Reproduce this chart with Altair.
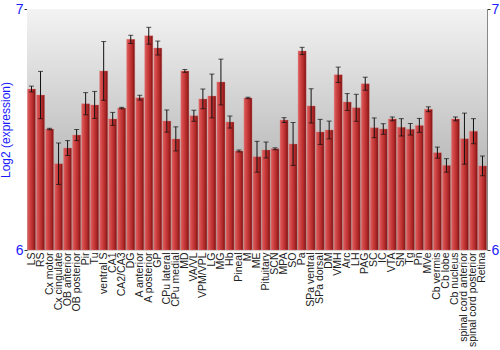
import altair as alt
import pandas as pd

regions = ["LS", "RS", "Cx motor", "Cx cingulate", "OB anterior", "OB posterior", "Pir", "Tu",
           "ventral S", "CA1", "CA2/CA3", "DG", "A anterior", "A posterior", "GP", "CPu lateral",
           "CPu medial", "MD", "VA/VL", "VPM/VPL", "LG", "MG", "Hb", "Pineal", "M", "ME",
           "Pituitary", "SCN", "MPA", "SO", "Pa", "SPa ventral", "SPa dorsal", "DM", "VMH", "Arc",
           "LH", "PAG", "SC", "IC", "VTA", "SN", "Tg", "Pn", "MVe", "Cb vermis", "Cb lobe",
           "Cb nucleus", "spinal cord anterior", "spinal cord posterior", "Retina"]

values = [6.668, 6.643, 6.502, 6.358, 6.423, 6.477, 6.607, 6.602,
          6.743, 6.544, 6.589, 6.874, 6.632, 6.889, 6.838, 6.535,
          6.461, 6.743, 6.557, 6.627, 6.639, 6.697, 6.531, 6.411, 6.631, 6.387,
          6.415, 6.420, 6.539, 6.440, 6.826, 6.598, 6.490, 6.498, 6.727, 6.614,
          6.590, 6.690, 6.507, 6.502, 6.544, 6.509, 6.501, 6.517, 6.584, 6.404, 6.351,
          6.544, 6.462, 6.493, 6.349]

errors = [0.012, 0.098, 0.003, 0.086, 0.031, 0.023, 0.046, 0.056,
          0.122, 0.027, 0.003, 0.017, 0.010, 0.035, 0.029, 0.046,
          0.050, 0.006, 0.023, 0.041, 0.091, 0.095, 0.025, 0.004, 0.003, 0.064,
          0.033, 0.004, 0.010, 0.089, 0.015, 0.071, 0.052, 0.037, 0.032, 0.035,
          0.056, 0.027, 0.041, 0.022, 0.008, 0.036, 0.024, 0.029, 0.010, 0.023, 0.028,
          0.008, 0.106, 0.052, 0.041]

y_domain = [6, 7]

df = pd.DataFrame({"region": regions, "value": values, "err": errors})
df["lo"] = df["value"] - df["err"]
df["hi"] = df["value"] + df["err"]

W, H = 460, 241
BLUE = "#1a1aff"
FONT = "Liberation Sans"

xenc = alt.X("region:N", sort=regions, scale=alt.Scale(paddingInner=0.1, paddingOuter=0.05),
             axis=alt.Axis(title=None, labelAngle=270, labelAlign="right", labelBaseline="middle",
                           labelFontSize=10.5, labelColor="#222222", labelFont=FONT, ticks=False,
                           domain=False, labelPadding=2))
yscale = alt.Scale(domain=y_domain, zero=False, nice=False)

bg = alt.Chart(pd.DataFrame({"a": [0]})).mark_rect(
    color=alt.LinearGradient(gradient="linear", x1=0, x2=0, y1=0, y2=1,
                             stops=[alt.GradientStop(color="#f3f3f3", offset=0),
                                    alt.GradientStop(color="#9c9c9c", offset=1)])
).encode(x=alt.value(0), x2=alt.value(W), y=alt.value(0), y2=alt.value(H))

bars = alt.Chart(df).mark_bar(
    color=alt.LinearGradient(gradient="linear", x1=0, x2=1, y1=0, y2=0,
                             stops=[alt.GradientStop(color="#e06060", offset=0),
                                    alt.GradientStop(color="#cc4040", offset=0.35),
                                    alt.GradientStop(color="#b02828", offset=0.7),
                                    alt.GradientStop(color="#7a1010", offset=1)]),
    stroke="#d98080", strokeWidth=0.5, strokeOpacity=0.7
).encode(
    x=xenc,
    y=alt.Y("value:Q", scale=yscale,
            axis=alt.Axis(title="Log2 (expression)", titleColor=BLUE, titleFontSize=12,
                          titleFontWeight="normal", titleFont=FONT, titlePadding=3,
                          labelColor=BLUE, labelFontSize=14, labelFont=FONT, format="d",
                          values=[6, 7], grid=False, domainColor="#666666",
                          tickColor="#333333", tickSize=3, labelPadding=1)),
    y2=alt.datum(6),
)

rules = alt.Chart(df).mark_rule(color="#111111", strokeWidth=1).encode(
    x=alt.X("region:N", sort=regions), y=alt.Y("lo:Q", scale=yscale, axis=None), y2="hi:Q")
caps_hi = alt.Chart(df).mark_tick(color="#111111", thickness=1, size=5).encode(
    x=alt.X("region:N", sort=regions), y=alt.Y("hi:Q", scale=yscale, axis=None))
caps_lo = alt.Chart(df).mark_tick(color="#111111", thickness=1, size=5).encode(
    x=alt.X("region:N", sort=regions), y=alt.Y("lo:Q", scale=yscale, axis=None))

right = alt.Chart(df).mark_point(opacity=0).encode(
    x=alt.X("region:N", sort=regions),
    y=alt.Y("value:Q", scale=yscale,
            axis=alt.Axis(orient="right", title=None, labelColor=BLUE, labelFontSize=14,
                          labelFont=FONT, values=[6, 7], format="d", grid=False,
                          domainColor="#888888", tickColor="#333333", tickSize=3,
                          labelPadding=1)))

chart = alt.layer(bg, bars, rules, caps_hi, caps_lo, right).resolve_scale(y="independent").properties(
    width=W, height=H,
    autosize=alt.AutoSizeParams(type="none"),
    padding={"left": 27, "top": 9, "right": 13, "bottom": 100},
).configure_view(stroke="#888888", strokeWidth=1).configure(background="white")

chart.save("out.html", embed_options={"renderer": "svg", "actions": False})
